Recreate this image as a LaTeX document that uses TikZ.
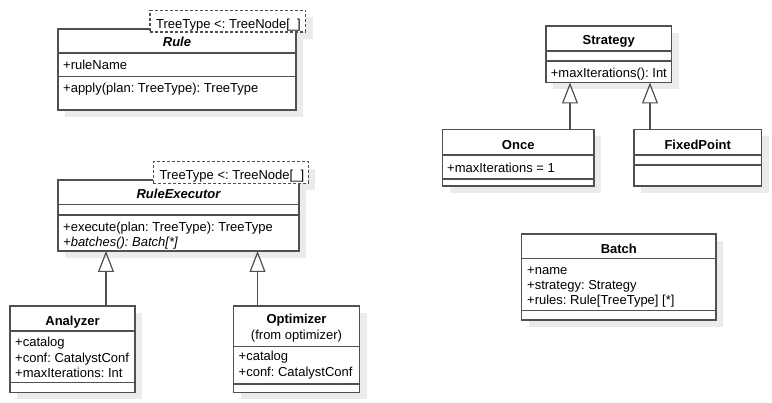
\documentclass[tikz,border=0pt]{standalone}
\usepackage{fontspec}
\setmainfont{Liberation Sans}
\usetikzlibrary{arrows.meta,backgrounds}
\definecolor{linec}{HTML}{505050}
\definecolor{shadowc}{HTML}{EBEBEB}
\newcommand\umlfont{\fontsize{13}{15}\selectfont\frenchspacing}
\begin{document}
\begin{tikzpicture}[x=1pt,y=-1pt,
  cls/.style={rectangle, draw=linec, line width=1.2pt, fill=white, inner sep=0pt, outer sep=0pt, anchor=north west},
  tmpl/.style={rectangle, draw=linec, line width=1.1pt, dash pattern=on 3pt off 2pt, fill=white, inner sep=0pt, outer sep=0pt, anchor=north west},
  sepl/.style={draw=linec, line width=1.2pt},
  txt/.style={anchor=base west, inner sep=0pt, font=\umlfont},
  ttl/.style={anchor=base, inner sep=0pt, font=\umlfont\bfseries},
  gen/.style={draw=linec, line width=1.2pt, -{Triangle[open, length=21pt, width=16pt]}}
]
\useasboundingbox (0,0) rectangle (772,403);

% class boxes
\node[cls, minimum width=238pt, minimum height=81pt] (rule) at (58,29) {};
\node[tmpl, minimum width=155.5pt, minimum height=21.5pt] (t1) at (150,10.5) {};
\node[cls, minimum width=241pt, minimum height=71pt] (ruleexec) at (58,180) {};
\node[tmpl, minimum width=155pt, minimum height=21.6pt] (t2) at (153.3,161.7) {};
\node[cls, minimum width=125pt, minimum height=86.5pt] (analyzer) at (10,306) {};
\node[cls, minimum width=126pt, minimum height=86.5pt] (optimizer) at (233.5,306) {};
\node[cls, minimum width=125.5pt, minimum height=56.5pt] (strategy) at (546,26) {};
\node[cls, minimum width=151.5pt, minimum height=56.5pt] (once) at (442.5,129.5) {};
\node[cls, minimum width=127.5pt, minimum height=56.5pt] (fixedpoint) at (634,129.5) {};
\node[cls, minimum width=194.3pt, minimum height=86pt] (batch) at (521.7,234) {};

\begin{pgfonlayer}{background}
\foreach \n in {rule,t1,ruleexec,t2,analyzer,optimizer,strategy,once,fixedpoint,batch}
  \fill[shadowc] ([shift={(7,7)}]\n.north west) rectangle ([shift={(7,7)}]\n.south east);
\end{pgfonlayer}

% separators
\draw[sepl] (rule.west |- 0,53) -- (rule.east |- 0,53);
\draw[sepl] (rule.west |- 0,76.5) -- (rule.east |- 0,76.5);
\draw[sepl] (ruleexec.west |- 0,204.3) -- (ruleexec.east |- 0,204.3);
\draw[sepl] (ruleexec.west |- 0,215) -- (ruleexec.east |- 0,215);
\draw[sepl] (analyzer.west |- 0,331) -- (analyzer.east |- 0,331);
\draw[sepl] (analyzer.west |- 0,382.5) -- (analyzer.east |- 0,382.5);
\draw[sepl] (optimizer.west |- 0,346.5) -- (optimizer.east |- 0,346.5);
\draw[sepl] (optimizer.west |- 0,384) -- (optimizer.east |- 0,384);
\draw[sepl] (strategy.west |- 0,51) -- (strategy.east |- 0,51);
\draw[sepl] (strategy.west |- 0,61) -- (strategy.east |- 0,61);
\draw[sepl] (once.west |- 0,155) -- (once.east |- 0,155);
\draw[sepl] (once.west |- 0,179) -- (once.east |- 0,179);
\draw[sepl] (fixedpoint.west |- 0,155) -- (fixedpoint.east |- 0,155);
\draw[sepl] (fixedpoint.west |- 0,165) -- (fixedpoint.east |- 0,165);
\draw[sepl] (batch.west |- 0,258.3) -- (batch.east |- 0,258.3);
\draw[sepl] (batch.west |- 0,310.7) -- (batch.east |- 0,310.7);

% texts
\node[ttl, font=\umlfont\bfseries\itshape] (ruleT) at (177,47) {Rule};
\node[txt] (ruleA1) at (63,70) {+ruleName};
\node[txt] (ruleO1) at (63,93) {+apply(plan: TreeType): TreeType};
\node[txt] (t1T) at (156,29) {TreeType <: TreeNode[\_]};

\node[ttl, font=\umlfont\bfseries\itshape] (reT) at (178.5,199) {RuleExecutor};
\node[txt] (reO1) at (63,231.5) {+execute(plan: TreeType): TreeType};
\node[txt, font=\umlfont\itshape] (reO2) at (63,246.5) {+batches(): Batch[*]};
\node[txt] (t2T) at (159.3,179.3) {TreeType <: TreeNode[\_]};

\node[ttl] (anT) at (72.5,326) {Analyzer};
\node[txt] (anA1) at (15,347) {+catalog};
\node[txt] (anA2) at (15,362.3) {+conf: CatalystConf};
\node[txt] (anA3) at (15,377.6) {+maxIterations: Int};

\node[ttl] (opT) at (296.5,324) {Optimizer};
\node[txt, anchor=base] (opS) at (296.5,340) {(from optimizer)};
\node[txt] (opA1) at (238.5,361) {+catalog};
\node[txt] (opA2) at (238.5,376.5) {+conf: CatalystConf};

\node[ttl] (stT) at (608.75,45) {Strategy};
\node[txt] (stO1) at (550.7,77.5) {+maxIterations(): Int};

\node[ttl] (onT) at (518.25,149.3) {Once};
\node[txt] (onA1) at (447,172.3) {+maxIterations = 1};

\node[ttl] (fpT) at (697.75,149.3) {FixedPoint};

\node[ttl] (baT) at (618.85,253.3) {Batch};
\node[txt] (baA1) at (527,275) {+name};
\node[txt] (baA2) at (527,290) {+strategy: Strategy};
\node[txt] (baA3) at (527,305) {+rules: Rule[TreeType] [*]};

% generalizations
\coordinate (g1) at (106,0);
\coordinate (g2) at (257.5,0);
\coordinate (g3) at (570,0);
\coordinate (g4) at (650,0);
\draw[gen] (analyzer.north -| g1) -- (ruleexec.south -| g1);
\draw[gen] (optimizer.north -| g2) -- (ruleexec.south -| g2);
\draw[gen] (once.north -| g3) -- (strategy.south -| g3);
\draw[gen] (fixedpoint.north -| g4) -- (strategy.south -| g4);
\end{tikzpicture}
\end{document}
